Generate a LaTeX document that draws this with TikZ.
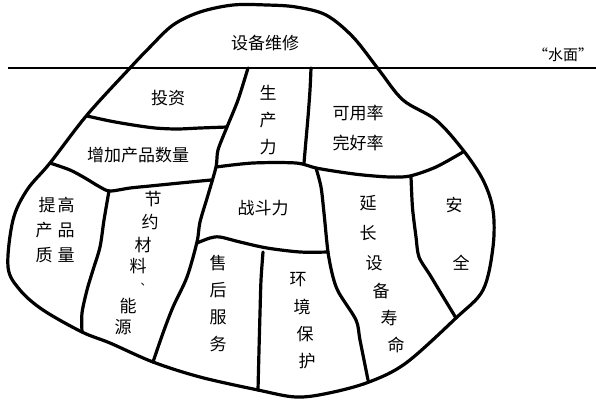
\documentclass[tikz,border=0pt]{standalone}
\usepackage{fontspec}
\newfontfamily\cjk{Noto Sans CJK SC}
\begin{document}
\begin{tikzpicture}[x=1pt,y=-1pt,
  edge/.style={line width=3.2pt,line join=round,line cap=round},
  lbl/.style={font=\cjk\fontsize{17}{17}\selectfont,inner sep=0pt},
  vlbl/.style={font=\cjk\fontsize{17}{27}\selectfont,inner sep=0pt,align=center},
  ch/.style={font=\cjk\fontsize{17}{17}\selectfont,inner sep=0pt}]
\useasboundingbox (0,0) rectangle (596,400);
% outline of the iceberg
\draw[edge] plot[smooth cycle,tension=0.55] coordinates {
 (130,68) (150,47) (173,25) (200,12) (233,5) (267,5) (296,7) (326,15) (353,37)
 (379,70) (403,100) (436,120) (463,150) (483,180) (493,210) (493,247) (483,290)
 (456,318) (406,363) (369,382) (329,393) (296,397) (258,390) (200,377) (153,362)
 (110,343) (82,332) (43,310) (20,290) (8,267) (13,220) (27,190) (50,163) (87,115)};
% water line
\draw[line width=2.8pt] (8,68) -- (596,68);
% internal lines
\draw[edge] plot[smooth,tension=0.5] coordinates {(248,68) (238,100) (227,127) (218,150) (216,167) (208,195) (200,222) (197,242) (187,277) (173,307) (163,333) (153,362)};
\draw[edge] plot[smooth,tension=0.5] coordinates {(87,116) (110,121) (133,125) (155,128) (177,129) (200,128) (227,127)};
\draw[edge] plot[smooth,tension=0.5] coordinates {(50,163) (70,170) (85,178) (100,187) (110,191) (130,188) (150,186) (180,183) (211,180)};
\draw[edge] plot[smooth,tension=0.5] coordinates {(109,191) (104,220) (100,247) (93,270) (87,290) (82,313) (82,332)};
\draw[edge] plot[smooth,tension=0.5] coordinates {(216,167) (253,163) (296,163) (316,168) (340,172) (363,175) (390,177) (410,176) (436,167) (463,152)};
\draw[edge] plot[smooth,tension=0.5] coordinates {(311,68) (310,90) (308,117) (306,140) (304,163)};
\draw[edge] plot[smooth,tension=0.5] coordinates {(197,243) (210,238) (220,237) (240,242) (267,248) (300,252) (328,252)};
\draw[edge] plot[smooth,tension=0.5] coordinates {(316,168) (321,187) (324,213) (328,252) (333,277) (339,293) (356,320) (360,340) (368,380)};
\draw[edge] plot[smooth,tension=0.5] coordinates {(263,252) (261,280) (260,313) (259,350) (258,390)};
\draw[edge] plot[smooth,tension=0.5] coordinates {(411,177) (412,200) (413,213) (416,237) (419,257) (430,275) (439,290) (456,318)};
% labels
\node[lbl] (wx) at (265,43) {设备维修};
\node[font=\cjk\fontsize{15}{15}\selectfont,inner sep=0pt] (sm) at (563,55) {“水面”};
\node[lbl] (tz) at (168,98) {投资};
\node[lbl] (zj) at (138,155) {增加产品数量};
\node[vlbl] (scl) at (268,120) {生\\产\\力};
\node[vlbl,font=\cjk\fontsize{17}{30}\selectfont] (kyl) at (358,128) {可用率\\完好率};
\node[ch] (tg1) at (47,205) {提};
\node[ch] (tg2) at (66,205) {高};
\node[ch] (tg3) at (44,230) {产};
\node[ch] (tg4) at (66,230) {品};
\node[ch] (tg5) at (44,255) {质};
\node[ch] (tg6) at (66,255) {量};
\node[ch] (jy1) at (153,199) {节};
\node[ch] (jy2) at (150,222) {约};
\node[ch] (jy3) at (143,245) {材};
\node[ch] (jy4) at (138,266) {料};
\node[font=\cjk\fontsize{11}{11}\selectfont,inner sep=0pt] (jy5) at (146,285) {、};
\node[ch] (jy6) at (128,306) {能};
\node[ch] (jy7) at (123,327) {源};
\node[lbl] (zdl) at (263,208) {战斗力};
\node[vlbl,font=\cjk\fontsize{17}{27}\selectfont] (shfw) at (218,303) {售\\后\\服\\务};
\node[ch] (hj1) at (298,280) {环};
\node[ch] (hj2) at (302,307) {境};
\node[ch] (hj3) at (305,334) {保};
\node[ch] (hj4) at (307,361) {护};
\node[ch] (yc1) at (368,203) {延};
\node[ch] (yc2) at (368,233) {长};
\node[ch] (yc3) at (374,263) {设};
\node[ch] (yc4) at (381,291) {备};
\node[ch] (yc5) at (389,318) {寿};
\node[ch] (yc6) at (396,345) {命};
\node[ch] (aq1) at (454,205) {安};
\node[ch] (aq2) at (461,263) {全};
\end{tikzpicture}
\end{document}
